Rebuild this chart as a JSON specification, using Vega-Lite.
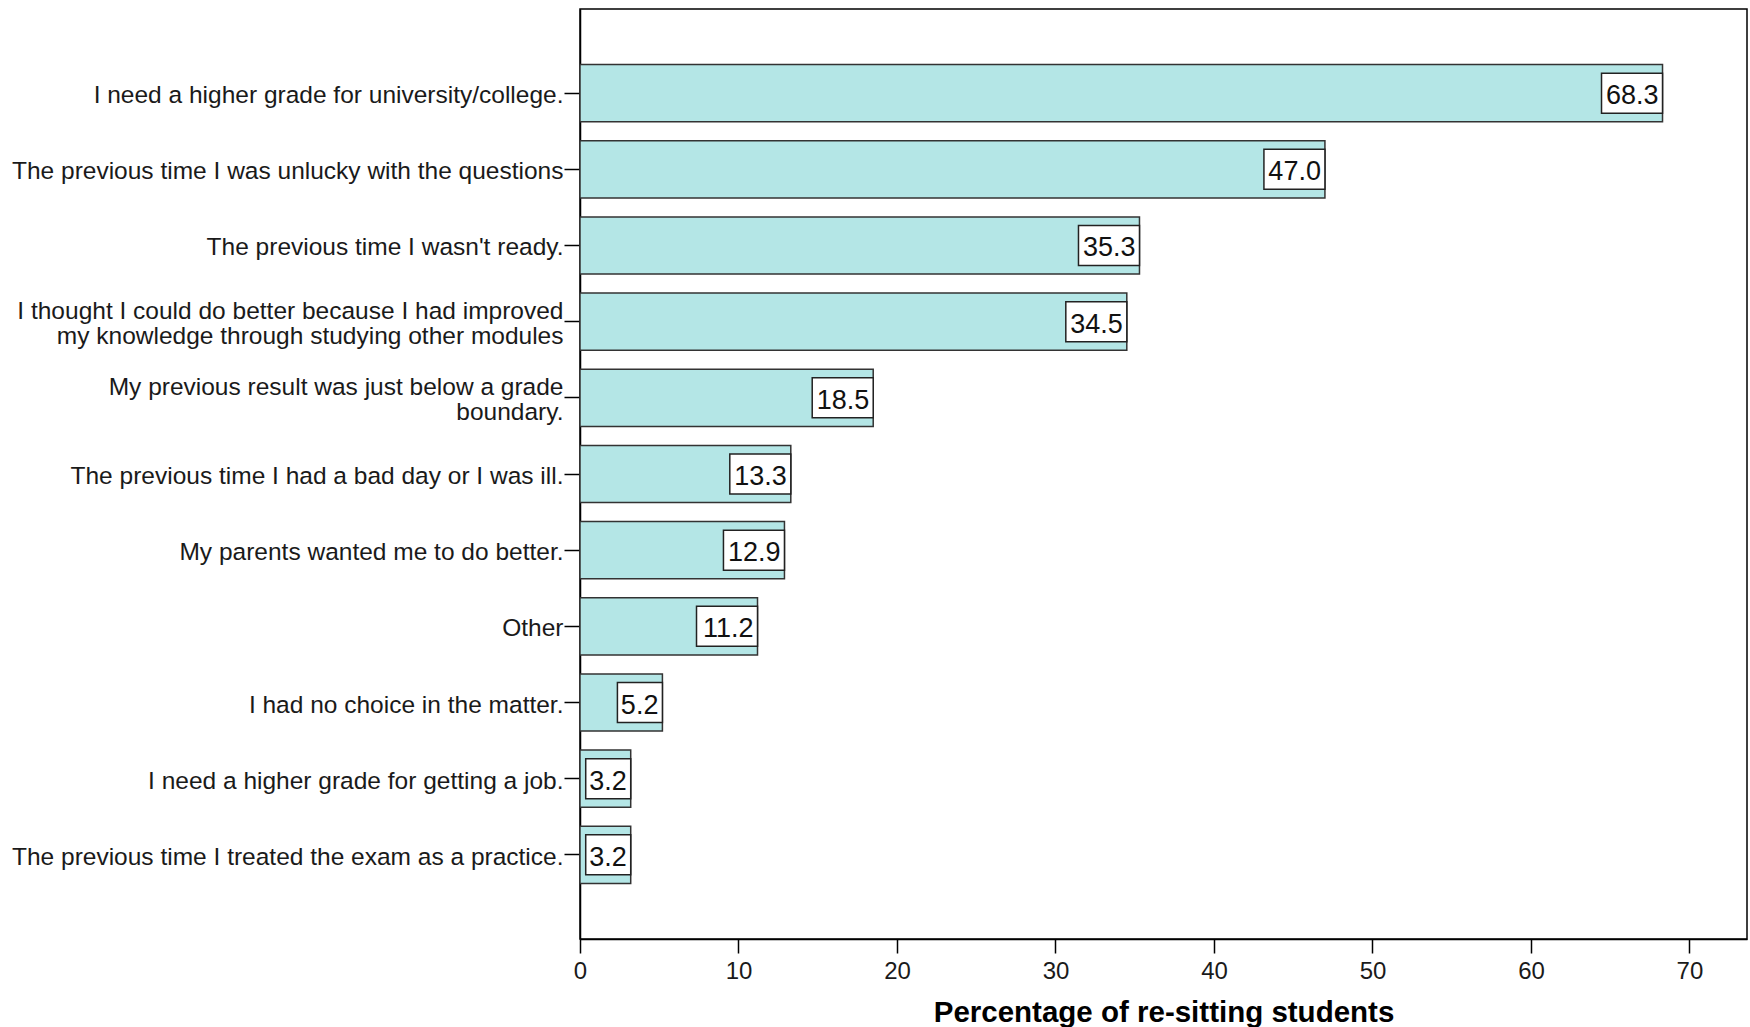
{
  "$schema": "https://vega.github.io/schema/vega-lite/v6.json",
  "width": 1167,
  "height": 930,
  "autosize": {"type": "none"},
  "padding": {"left": 580, "top": 9, "right": 3, "bottom": 88},
  "background": "white",
  "config": {
    "font": "Liberation Sans",
    "view": {"stroke": "#000", "strokeWidth": 1.5}
  },
  "data": {
    "values": [
      {"reason": "I need a higher grade for university/college.", "pct": 68.3},
      {"reason": "The previous time I was unlucky with the questions", "pct": 47.0},
      {"reason": "The previous time I wasn't ready.", "pct": 35.3},
      {"reason": "I thought I could do better because I had improved|my knowledge through studying other modules", "pct": 34.5},
      {"reason": "My previous result was just below a grade|boundary.", "pct": 18.5},
      {"reason": "The previous time I had a bad day or I was ill.", "pct": 13.3},
      {"reason": "My parents wanted me to do better.", "pct": 12.9},
      {"reason": "Other", "pct": 11.2},
      {"reason": "I had no choice in the matter.", "pct": 5.2},
      {"reason": "I need a higher grade for getting a job.", "pct": 3.2},
      {"reason": "The previous time I treated the exam as a practice.", "pct": 3.2}
    ]
  },
  "encoding": {
    "y": {
      "field": "reason",
      "type": "nominal",
      "sort": null,
      "scale": {"paddingInner": 0.25, "paddingOuter": 0.73},
      "axis": {
        "title": null,
        "labelFontSize": 24.5,
        "labelLimit": 700,
        "tickSize": 16,
        "labelPadding": 1,
        "labelColor": "#1a1a1a",
        "tickColor": "#000",
        "tickWidth": 1.5,
        "domainColor": "#000",
        "domainWidth": 1.5,
        "labelExpr": "split(datum.label, '|')",
        "labelLineHeight": 25,
        "labelOffset": {
          "condition": {"test": "indexof(datum.label, '|') >= 0", "value": -9.5},
          "value": 3
        }
      }
    },
    "x": {
      "field": "pct",
      "type": "quantitative",
      "scale": {"domain": [0, 73.63], "nice": false, "zero": true},
      "axis": {
        "title": "Percentage of re-sitting students",
        "titleFontSize": 29.5,
        "titleFontWeight": "bold",
        "titleColor": "#000",
        "titlePadding": 15,
        "values": [0, 10, 20, 30, 40, 50, 60, 70],
        "grid": false,
        "tickSize": 14,
        "tickColor": "#000",
        "tickWidth": 1.5,
        "domainColor": "#000",
        "domainWidth": 1.5,
        "labelFontSize": 24,
        "labelPadding": 6,
        "labelColor": "#1a1a1a",
        "labelFlush": false,
        "labelOverlap": false
      }
    }
  },
  "layer": [
    {
      "mark": {"type": "bar", "fill": "#b4e6e6", "stroke": "#333", "strokeWidth": 1.5}
    },
    {
      "mark": {"type": "point", "filled": true, "fill": "white", "stroke": "#222", "strokeWidth": 1.5, "opacity": 1, "size": 400},
      "encoding": {
        "shape": {
          "condition": {"test": "datum.pct < 10", "value": "M-4.5,-2H0V2H-4.5Z"},
          "value": "M-6.1,-2H0V2H-6.1Z"
        }
      }
    },
    {
      "mark": {"type": "text", "align": "right", "baseline": "middle", "dx": -4, "dy": 3, "fontSize": 27, "color": "#111"},
      "encoding": {
        "text": {"field": "pct", "type": "quantitative", "format": ".1f"}
      }
    }
  ]
}
